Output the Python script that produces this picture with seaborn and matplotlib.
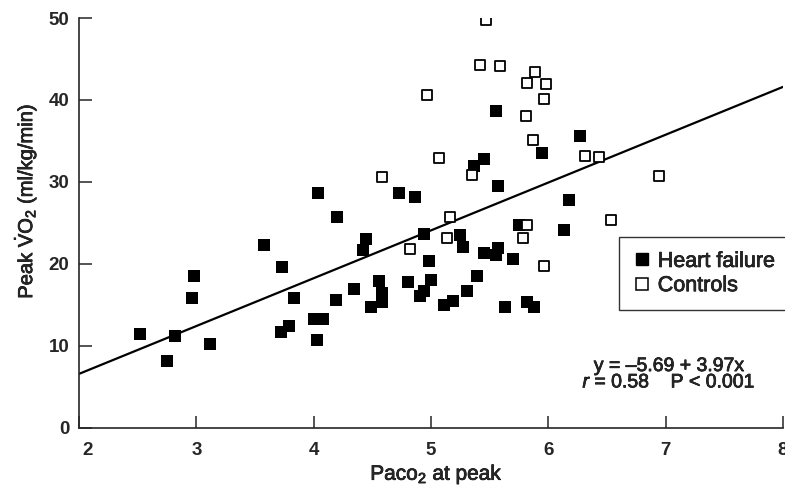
import numpy as np
import pandas as pd
import matplotlib
matplotlib.use("Agg")
import matplotlib.pyplot as plt
import matplotlib.patheffects as pe
import matplotlib.transforms as mtransforms
from matplotlib.lines import Line2D
import seaborn as sns

# Paco2 at peak / peak VO2, heart failure patients (filled squares)
hf_paco2 = [2.52, 2.75, 2.82, 2.98, 2.96, 3.12, 3.58, 3.73, 3.83, 3.79, 3.72,
            4.04, 4.20, 4.19, 4.00, 4.08, 4.03, 5.55, 6.27, 5.95, 5.45, 5.37,
            5.57, 4.73, 4.86, 6.18, 4.94, 4.45, 4.42, 5.25, 5.27, 5.75, 6.13,
            4.98, 5.45, 5.55, 5.57, 5.70, 5.00, 5.39, 4.56, 4.80, 4.34, 4.58,
            4.58, 4.94, 4.91, 5.31, 4.49, 5.11, 5.19, 5.63, 5.82, 5.88]
hf_vo2 = [11.5, 8.2, 11.2, 18.5, 15.8, 10.2, 22.3, 19.6, 15.8, 12.5, 11.7,
          28.7, 25.7, 15.6, 13.3, 13.3, 10.7, 38.7, 35.6, 33.5, 32.8, 32.0,
          29.5, 28.6, 28.2, 27.8, 23.7, 23.1, 21.7, 23.5, 22.1, 24.7, 24.1,
          20.4, 21.3, 21.1, 22.0, 20.6, 18.0, 18.5, 17.9, 17.8, 16.9, 16.5,
          15.4, 16.7, 16.1, 16.7, 14.8, 15.0, 15.5, 14.8, 15.4, 14.8]

# controls (open squares)
ctl_paco2 = [5.47, 5.42, 5.59, 5.89, 5.82, 5.98, 5.96, 4.97, 5.81, 5.87, 5.07,
             5.35, 4.58, 5.16, 5.82, 5.78, 5.14, 4.82, 5.96, 6.31, 6.43, 6.94,
             6.53]
ctl_vo2 = [49.8, 44.3, 44.1, 43.4, 42.1, 41.9, 40.1, 40.6, 38.1, 35.1, 32.9,
           30.9, 30.6, 25.7, 24.7, 23.2, 23.2, 21.8, 19.7, 33.2, 33.0, 30.7,
           25.4]

# regression line as drawn in the figure
line_x = [2, 8]
line_y = [6.6, 41.6]

hf = pd.DataFrame({"paco2": hf_paco2, "vo2": hf_vo2})
ctl = pd.DataFrame({"paco2": ctl_paco2, "vo2": ctl_vo2})

sns.set_style("ticks")
plt.rcParams["font.family"] = ["Liberation Sans", "DejaVu Sans"]
plt.rcParams["mathtext.fontset"] = "custom"
plt.rcParams["mathtext.rm"] = "Liberation Sans"
plt.rcParams["mathtext.it"] = "Liberation Sans:italic"

# slightly heavier strokes to mimic a medium weight
medium = [pe.withStroke(linewidth=0.5, foreground="black")]

fig = plt.figure(figsize=(7.85, 4.87), dpi=100)
ax = fig.add_axes([79 / 785, 59 / 487, 704 / 785, 410 / 487])

sns.lineplot(x=line_x, y=line_y, ax=ax, color="black", linewidth=1.6)
sns.scatterplot(data=hf, x="paco2", y="vo2", ax=ax, marker="s", s=80,
                color="black", edgecolor="black", linewidth=0, zorder=3)
sns.scatterplot(data=ctl, x="paco2", y="vo2", ax=ax, marker="s", s=60,
                facecolor="white", edgecolor="black", linewidth=1.3, zorder=3)

ax.set_xlim(2, 8)
ax.set_ylim(0, 50)
ax.set_xticks(range(2, 9))
ax.set_yticks(range(0, 51, 10))
ax.tick_params(direction="in", length=9, width=1.1, labelsize=13.5, pad=7)
ax.tick_params(axis="x", pad=10)
for lab in ax.get_xticklabels() + ax.get_yticklabels():
    lab.set_fontweight("bold")
# the "2" at the origin sits a little to the right
first = ax.get_xticklabels()[0]
first.set_transform(first.get_transform() +
                    mtransforms.ScaledTranslation(9 / 100, 0, fig.dpi_scale_trans))
for s in ["top", "right"]:
    ax.spines[s].set_visible(False)
for s in ["left", "bottom"]:
    ax.spines[s].set_linewidth(1.2)

xl = ax.set_xlabel("Paco$_2$ at peak", fontsize=15, labelpad=3)
yl = ax.set_ylabel(r"Peak $\dot{\mathrm{V}}$O$_2$ (ml/kg/min)", fontsize=14.5)
ax.yaxis.set_label_coords(-0.058, 0.553)
ax.xaxis.set_label_coords(0.508, -0.085)
xl.set_path_effects(medium)
yl.set_path_effects(medium)

handles = [
    Line2D([], [], marker="s", linestyle="none", markersize=8,
           markerfacecolor="black", markeredgecolor="black"),
    Line2D([], [], marker="s", linestyle="none", markersize=8,
           markerfacecolor="white", markeredgecolor="black", markeredgewidth=1.1),
]
leg = ax.legend(handles, ["Heart failure", "Controls"], loc="upper left",
                bbox_to_anchor=(0.767, 0.466), borderaxespad=0, fontsize=15.5,
                frameon=True, fancybox=False, edgecolor="black",
                handletextpad=0.35, handlelength=0.8, borderpad=0.65,
                labelspacing=0.15)
leg.get_frame().set_linewidth(1.0)
for t in leg.get_texts():
    t.set_path_effects(medium)

stats = ax.text(7.03, 4.95, "y = \u20135.69 + 3.97x\n$\\mathit{r}$ = 0.58    P < 0.001",
                fontsize=14, ha="center", va="baseline", linespacing=0.95,
                multialignment="center")
stats.set_path_effects(medium)

fig.savefig("out.png", dpi=100)
